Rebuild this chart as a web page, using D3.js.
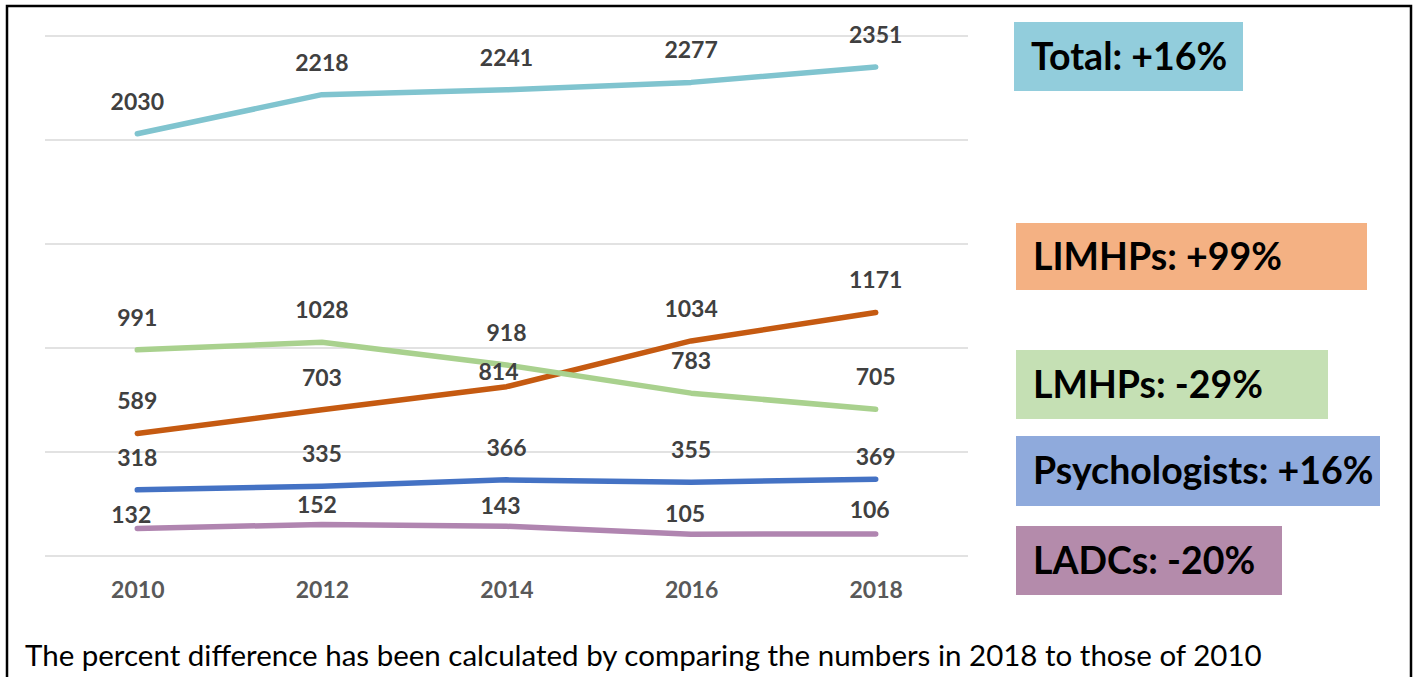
<!DOCTYPE html>
<html lang="en">
  <head>
    <meta charset="UTF-8" />
    <title>Licensed behavioral health professionals, 2010-2018</title>
    <script src="https://d3js.org/d3.v7.min.js"></script>
    <style>
      body {
        margin: 0;
        background: #fff;
      }
      svg {
        display: block;
      }
    </style>
  </head>
  <body>
    <div id="chart"></div>
    <script>
      const years = [2010, 2012, 2014, 2016, 2018];
      const total = [2030, 2218, 2241, 2277, 2351];
      const limhps = [589, 703, 814, 1034, 1171];
      const lmhps = [991, 1028, 918, 783, 705];
      const psychologists = [318, 335, 366, 355, 369];
      const ladcs = [132, 152, 143, 105, 106];
      const legendLabels = [
        "Total: +16%",
        "LIMHPs: +99%",
        "LMHPs: -29%",
        "Psychologists: +16%",
        "LADCs: -20%",
      ];
      const yTicks = [0, 500, 1000, 1500, 2000, 2500];

      const width = 1418;
      const height = 677;
      const plot = {left: 45, right: 968, top: 36, bottom: 556};

      const series = [
        {key: "psych", values: psychologists, color: "#4472c4"},
        {key: "limhps", values: limhps, color: "#c55a11"},
        {key: "lmhps", values: lmhps, color: "#a9d18e"},
        {key: "ladcs", values: ladcs, color: "#b085b0"},
        {key: "total", values: total, color: "#80c4cf"},
      ];

      // Excel had some labels dragged around by hand
      const labelNudge = {
        "limhps-2": {dx: -8, dy: 17},
        "psych-4": {dx: 0, dy: 10},
        "ladcs-0": {dx: -6, dy: 18},
        "ladcs-1": {dx: -5, dy: 13},
        "ladcs-2": {dx: -6, dy: 12},
        "ladcs-3": {dx: -6, dy: 12},
        "ladcs-4": {dx: -6, dy: 8},
      };

      const svg = d3
        .select("#chart")
        .append("svg")
        .attr("width", width)
        .attr("height", height);

      const x = d3
        .scalePoint()
        .domain(years)
        .range([plot.left, plot.right])
        .padding(0.5);

      const y = d3
        .scaleLinear()
        .domain([0, 2500])
        .range([plot.bottom, plot.top]);

      // gridlines
      svg
        .append("g")
        .selectAll("line")
        .data(yTicks)
        .join("line")
        .attr("x1", plot.left)
        .attr("x2", plot.right)
        .attr("y1", (d) => y(d))
        .attr("y2", (d) => y(d))
        .attr("stroke", "#d9d9d9")
        .attr("stroke-width", 1.5);

      // x axis labels
      const xAxis = svg
        .append("g")
        .attr("transform", `translate(0,${plot.bottom})`)
        .call(d3.axisBottom(x).tickSize(0).tickPadding(0));
      xAxis.select(".domain").remove();
      xAxis
        .selectAll("text")
        .attr("dy", null)
        .attr("y", 42)
        .attr("font-family", "Lato, sans-serif")
        .attr("font-size", "23px")
        .attr("font-weight", "bold")
        .attr("fill", "#595959");

      const line = d3
        .line()
        .x((d, i) => x(years[i]))
        .y((d) => y(d));

      svg
        .append("g")
        .selectAll("path")
        .data(series)
        .join("path")
        .attr("d", (s) => line(s.values))
        .attr("fill", "none")
        .attr("stroke", (s) => s.color)
        .attr("stroke-width", 5.5)
        .attr("stroke-linecap", "round")
        .attr("stroke-linejoin", "round");

      // data labels
      const labels = [];
      series.forEach((s) => {
        s.values.forEach((v, i) => {
          const n = labelNudge[`${s.key}-${i}`] || {dx: 0, dy: 0};
          labels.push({v, i, n});
        });
      });

      svg
        .append("g")
        .selectAll("text")
        .data(labels)
        .join("text")
        .attr("x", (d) => x(years[d.i]) + d.n.dx)
        .attr("y", (d) => y(d.v) - 24 + d.n.dy)
        .attr("text-anchor", "middle")
        .attr("font-family", "Lato, sans-serif")
        .attr("font-size", "23px")
        .attr("font-weight", "bold")
        .attr("fill", "#404040")
        .text((d) => d.v);

      // legend boxes on the right
      const legendBoxes = [
        {x: 1014, y: 22, w: 229, h: 69, fill: "#92cddc"},
        {x: 1016, y: 223, w: 351, h: 67, fill: "#f4b183"},
        {x: 1016, y: 350, w: 312, h: 69, fill: "#c5e0b4"},
        {x: 1016, y: 436, w: 364, h: 70, fill: "#8faadc"},
        {x: 1016, y: 526, w: 266, h: 69, fill: "#b48bab"},
      ];

      const legend = svg
        .append("g")
        .selectAll("g")
        .data(legendLabels)
        .join("g")
        .attr("transform", (d, i) => `translate(${legendBoxes[i].x},${legendBoxes[i].y})`);

      legend
        .append("rect")
        .attr("width", (d, i) => legendBoxes[i].w)
        .attr("height", (d, i) => legendBoxes[i].h)
        .attr("fill", (d, i) => legendBoxes[i].fill);

      legend
        .append("text")
        .attr("x", 17)
        .attr("y", (d, i) => legendBoxes[i].h / 2 + 13)
        .attr("font-family", "Lato, sans-serif")
        .attr("font-size", "37.5px")
        .attr("font-weight", "bold")
        .attr("fill", "#000")
        .text((d) => d);

      svg
        .append("text")
        .attr("x", 25)
        .attr("y", 666)
        .attr("font-family", "Lato, sans-serif")
        .attr("font-size", "29.5px")
        .attr("fill", "#000")
        .text(
          "The percent difference has been calculated by comparing the numbers in 2018 to those of 2010"
        );

      // outer frame
      svg
        .append("rect")
        .attr("x", 7)
        .attr("y", 6)
        .attr("width", 1404)
        .attr("height", 720)
        .attr("fill", "none")
        .attr("stroke", "#000")
        .attr("stroke-width", 2.5);
    </script>
  </body>
</html>
